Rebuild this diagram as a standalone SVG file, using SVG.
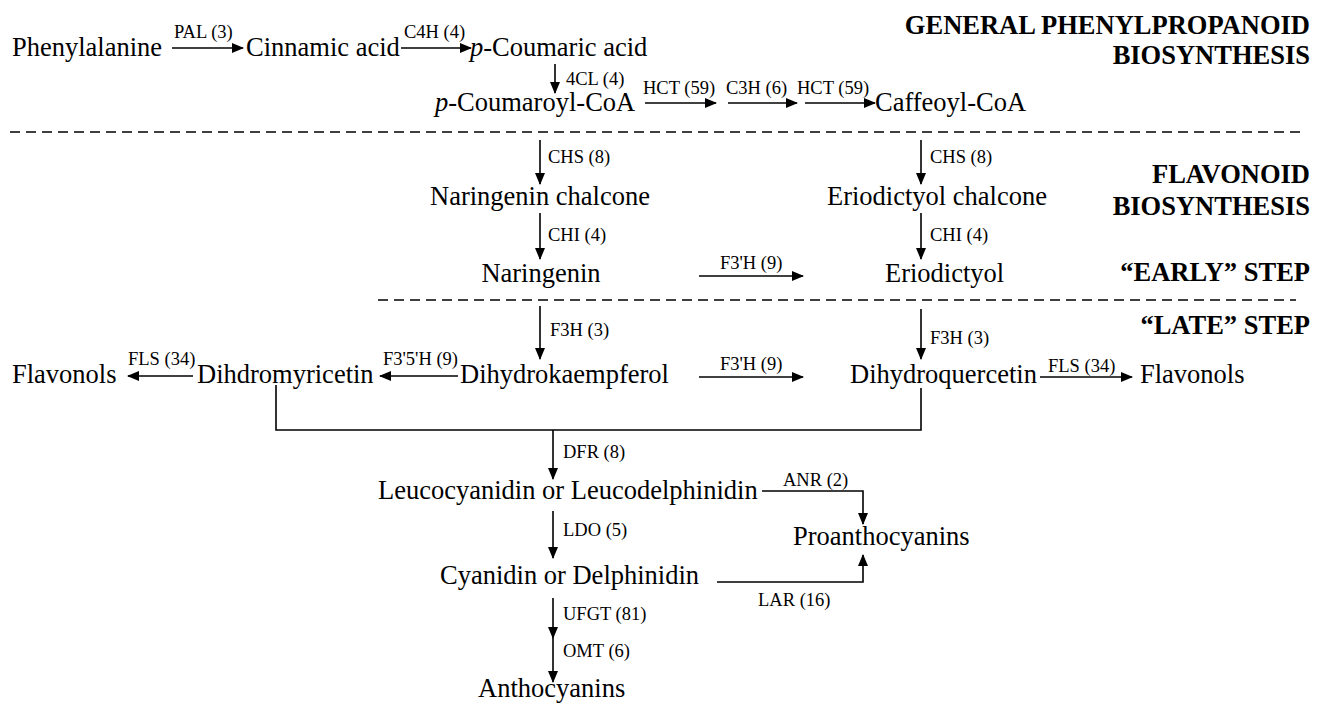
<svg xmlns="http://www.w3.org/2000/svg" width="1321" height="703" viewBox="0 0 1321 703">
<style>
text{font-family:'Liberation Serif',serif;fill:#000}
.m{font-size:26.5px}
.l{font-size:18.5px}
.h{font-size:26.5px;font-weight:bold;text-anchor:end}
.c{stroke:#000;stroke-width:1.6;fill:none}
.a{marker-end:url(#ah)}
.d{stroke:#000;stroke-width:1.6;stroke-dasharray:10 6;fill:none}
</style>
<defs>
<marker id="ah" markerUnits="userSpaceOnUse" markerWidth="12" markerHeight="10" refX="11" refY="5" orient="auto">
<path d="M0,0 L12,5 L0,10 Z" fill="#000"/>
</marker>
</defs>
<rect width="1321" height="703" fill="#fff"/>
<g id="headers">
<text class="h" x="1310" y="34">GENERAL PHENYLPROPANOID</text>
<text class="h" x="1310" y="64">BIOSYNTHESIS</text>
<text class="h" x="1310" y="183">FLAVONOID</text>
<text class="h" x="1310" y="215">BIOSYNTHESIS</text>
<text class="h" x="1310" y="281">“EARLY” STEP</text>
<text class="h" x="1310" y="334">“LATE” STEP</text>
</g>
<g id="separators">
<line class="d" x1="10" y1="132" x2="1300" y2="132"/>
<line class="d" x1="378" y1="300" x2="1296" y2="300"/>
</g>
<g id="n-phenylalanine"><text class="m" x="12" y="56">Phenylalanine</text></g>
<g id="n-cinnamic"><text class="m" x="246" y="56">Cinnamic acid</text></g>
<g id="n-coumaric"><text class="m" x="470" y="56"><tspan font-style="italic">p</tspan>-Coumaric acid</text></g>
<g id="n-coumaroyl"><text class="m" x="435" y="111"><tspan font-style="italic">p</tspan>-Coumaroyl-CoA</text></g>
<g id="n-caffeoyl"><text class="m" x="875" y="111">Caffeoyl-CoA</text></g>
<g id="n-naringenin-chalcone"><text class="m" x="540" y="205" text-anchor="middle">Naringenin chalcone</text></g>
<g id="n-naringenin"><text class="m" x="541" y="282" text-anchor="middle">Naringenin</text></g>
<g id="n-eriodictyol-chalcone"><text class="m" x="937" y="205" text-anchor="middle">Eriodictyol chalcone</text></g>
<g id="n-eriodictyol"><text class="m" x="885" y="282">Eriodictyol</text></g>
<g id="n-dihydrokaempferol"><text class="m" x="460" y="383">Dihydrokaempferol</text></g>
<g id="n-dihydromyricetin"><text class="m" x="197" y="383">Dihdromyricetin</text></g>
<g id="n-flavonols-left"><text class="m" x="12" y="383">Flavonols</text></g>
<g id="n-dihydroquercetin"><text class="m" x="850" y="383">Dihydroquercetin</text></g>
<g id="n-flavonols-right"><text class="m" x="1140" y="383">Flavonols</text></g>
<g id="n-leuco"><text class="m" x="378" y="499">Leucocyanidin or Leucodelphinidin</text></g>
<g id="n-proantho"><text class="m" x="793" y="545">Proanthocyanins</text></g>
<g id="n-cyanidin"><text class="m" x="440" y="584">Cyanidin or Delphinidin</text></g>
<g id="n-antho"><text class="m" x="478" y="697">Anthocyanins</text></g>
<g id="connectors">
<line class="c a" x1="172" y1="48" x2="243" y2="48"/>
<line class="c a" x1="401" y1="48" x2="471" y2="48"/>
<line class="c a" x1="555" y1="64" x2="555" y2="93"/>
<line class="c a" x1="645" y1="103" x2="716" y2="103"/>
<line class="c a" x1="728" y1="103" x2="797" y2="103"/>
<line class="c a" x1="805" y1="103" x2="875" y2="103"/>
<line class="c a" x1="540" y1="140" x2="540" y2="184"/>
<line class="c a" x1="540" y1="213" x2="540" y2="259"/>
<line class="c a" x1="921" y1="140" x2="921" y2="184"/>
<line class="c a" x1="921" y1="213" x2="921" y2="259"/>
<line class="c a" x1="699" y1="276" x2="803" y2="276"/>
<line class="c a" x1="540" y1="306" x2="540" y2="359"/>
<line class="c a" x1="921" y1="309" x2="921" y2="359"/>
<line class="c a" x1="458" y1="376" x2="380" y2="376"/>
<line class="c a" x1="193" y1="376" x2="128" y2="376"/>
<line class="c a" x1="699" y1="377" x2="803" y2="377"/>
<line class="c a" x1="1040" y1="377" x2="1132" y2="377"/>
<polyline class="c" points="276,385 276,430 921,430 921,388"/>
<line class="c a" x1="553" y1="430" x2="553" y2="479"/>
<polyline class="c a" points="762,491 863,491 863,524"/>
<line class="c a" x1="553" y1="511" x2="553" y2="558"/>
<polyline class="c a" points="717,582 863,582 863,555"/>
<line class="c a" x1="553" y1="598" x2="553" y2="638"/>
<line class="c a" x1="553" y1="638" x2="553" y2="682"/>
</g>
<g id="labels">
<text class="l" x="174" y="38">PAL (3)</text>
<text class="l" x="404" y="38">C4H (4)</text>
<text class="l" x="566" y="85">4CL (4)</text>
<text class="l" x="643" y="94">HCT (59)</text>
<text class="l" x="726" y="94">C3H (6)</text>
<text class="l" x="797" y="94">HCT (59)</text>
<text class="l" x="548" y="163">CHS (8)</text>
<text class="l" x="548" y="241">CHI (4)</text>
<text class="l" x="930" y="163">CHS (8)</text>
<text class="l" x="930" y="241">CHI (4)</text>
<text class="l" x="720" y="269">F3'H (9)</text>
<text class="l" x="550" y="336">F3H (3)</text>
<text class="l" x="930" y="344">F3H (3)</text>
<text class="l" x="383" y="365">F3'5'H (9)</text>
<text class="l" x="128" y="365">FLS (34)</text>
<text class="l" x="720" y="370">F3'H (9)</text>
<text class="l" x="1048" y="372">FLS (34)</text>
<text class="l" x="563" y="458">DFR (8)</text>
<text class="l" x="783" y="486">ANR (2)</text>
<text class="l" x="563" y="536">LDO (5)</text>
<text class="l" x="758" y="606">LAR (16)</text>
<text class="l" x="563" y="620">UFGT (81)</text>
<text class="l" x="563" y="657">OMT (6)</text>
</g>
</svg>
